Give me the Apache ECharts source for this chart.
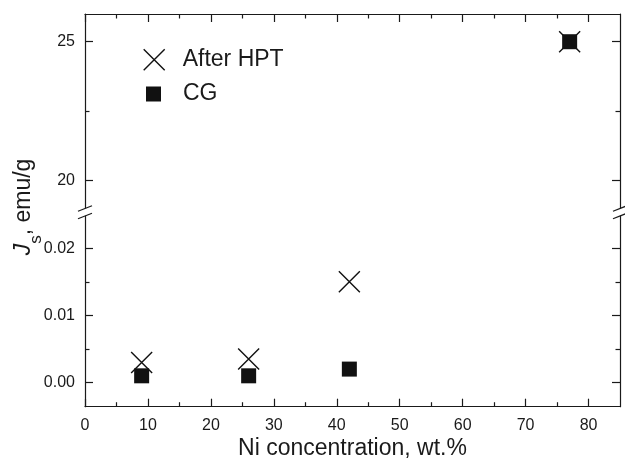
<!DOCTYPE html>
<html>
<head>
<meta charset="utf-8">
<script src="https://cdn.jsdelivr.net/npm/echarts@6/dist/echarts.min.js"></script>
<style>
html, body { margin: 0; padding: 0; background: #ffffff; }
#chart { width: 625px; height: 461px; }
</style>
</head>
<body>
<div id="chart"></div>
<script>
// ---- data ----
const niConcentration = [9, 26, 42, 77];
const afterHPT = [0.003, 0.0035, 0.015, 25];
const cgValues = [0.001, 0.001, 0.002, 25];
const seriesNames = ['After HPT', 'CG'];

// ---- ticks ----
const xMajorTicks = [0, 10, 20, 30, 40, 50, 60, 70, 80];
const xMinorTicks = [5, 15, 25, 35, 45, 55, 65, 75];
const upperMajorTicks = [20, 25];
const upperMinorTicks = [22.5];
const lowerMajorTicks = [0, 0.01, 0.02];
const lowerMinorTicks = [0.005, 0.015];
const BREAK_VALUE = 1; // values above this go to the upper panel

// ---- layout / style ----
const FONT = 'Liberation Sans, Arial, Helvetica, sans-serif';
const INK = '#1a1a1a';
const LEFT = 85, RIGHT_EDGE = 620, W = 625, H = 461;
const UP_TOP = 14, UP_BOTTOM = 208;
const LOW_TOP = 216, LOW_BOTTOM = 406.7;
const LINE_W = 1.2;
const CROSS = 'path://M0,0L20,20M20,0L0,20';

function pairs(vals, upper) {
  return niConcentration
    .map((x, i) => [x, vals[i]])
    .filter(p => upper ? p[1] > BREAK_VALUE : p[1] <= BREAK_VALUE);
}

function xAx(grid, pos, ticks, len, withLine, withLabel) {
  return {
    type: 'value', gridIndex: grid, position: pos, min: 0, max: 85,
    splitLine: { show: false },
    axisLine: { show: withLine, onZero: false, lineStyle: { color: INK, width: LINE_W } },
    axisTick: { show: true, inside: true, length: len, customValues: ticks,
                lineStyle: { color: INK, width: LINE_W } },
    axisLabel: withLabel
      ? { show: true, customValues: ticks, margin: 11, fontSize: 16, fontFamily: FONT, color: INK }
      : { show: false }
  };
}

function yAx(grid, pos, min, max, ticks, len, withLine, withLabel, fmt) {
  return {
    type: 'value', gridIndex: grid, position: pos, min: min, max: max,
    splitLine: { show: false },
    axisLine: { show: withLine, onZero: false, lineStyle: { color: INK, width: LINE_W } },
    axisTick: { show: true, inside: true, length: len, customValues: ticks,
                lineStyle: { color: INK, width: LINE_W } },
    axisLabel: withLabel
      ? { show: true, customValues: ticks, margin: 10, fontSize: 16, fontFamily: FONT, color: INK,
          formatter: fmt }
      : { show: false }
  };
}

const UP_MIN = 19, UP_MAX = 26;
const LOW_MIN = -0.0036, LOW_MAX = 0.0248;

const xAxes = [
  Object.assign(xAx(1, 'bottom', xMajorTicks, 8, true, true), {
    name: 'Ni concentration, wt.%', nameLocation: 'middle', nameGap: 30,
    nameTextStyle: { fontSize: 23, fontFamily: FONT, color: INK }
  }),
  xAx(1, 'bottom', xMinorTicks, 4.5, false, false),
  xAx(0, 'top', xMajorTicks, 8, true, false),
  xAx(0, 'top', xMinorTicks, 4.5, false, false)
];

const yAxes = [
  yAx(0, 'left', UP_MIN, UP_MAX, upperMajorTicks, 8, true, true, v => String(v)),
  yAx(0, 'left', UP_MIN, UP_MAX, upperMinorTicks, 4.5, false, false),
  yAx(0, 'right', UP_MIN, UP_MAX, upperMajorTicks, 8, true, false),
  yAx(0, 'right', UP_MIN, UP_MAX, upperMinorTicks, 4.5, false, false),
  yAx(1, 'left', LOW_MIN, LOW_MAX, lowerMajorTicks, 8, true, true, v => Number(v).toFixed(2)),
  yAx(1, 'left', LOW_MIN, LOW_MAX, lowerMinorTicks, 4.5, false, false),
  yAx(1, 'right', LOW_MIN, LOW_MAX, lowerMajorTicks, 8, true, false),
  yAx(1, 'right', LOW_MIN, LOW_MAX, lowerMinorTicks, 4.5, false, false)
];

const squareStyle = { color: '#111111', opacity: 1 };
const crossStyle = { color: 'transparent', borderColor: '#111111', borderWidth: 1.4, opacity: 1 };

function breakMarks(x) {
  const dx = 7, dy = 2.8;
  return [UP_BOTTOM + 0.5, LOW_TOP].map(y => ({
    type: 'line', silent: true, z: 100,
    shape: { x1: x - dx, y1: y + dy, x2: x + dx, y2: y - dy },
    style: { stroke: INK, lineWidth: LINE_W }
  }));
}

const option = {
  animation: false,
  backgroundColor: '#ffffff',
  textStyle: { fontFamily: FONT },
  grid: [
    { left: LEFT, right: W - RIGHT_EDGE, top: UP_TOP, height: UP_BOTTOM - UP_TOP, containLabel: false },
    { left: LEFT, right: W - RIGHT_EDGE, top: LOW_TOP, height: LOW_BOTTOM - LOW_TOP, containLabel: false }
  ],
  xAxis: xAxes,
  yAxis: yAxes,
  legend: [
    {
      data: [{ name: seriesNames[0], icon: CROSS, itemStyle: crossStyle }],
      left: 138, top: 43.3, itemWidth: 21, itemHeight: 21, selectedMode: false,
      textStyle: { fontSize: 23, fontFamily: FONT, color: INK, lineHeight: 21, padding: [0, 0, 0, 13] }
    },
    {
      data: [{ name: seriesNames[1], icon: 'rect', itemStyle: squareStyle }],
      left: 141, top: 77.5, itemWidth: 15, itemHeight: 15, selectedMode: false,
      textStyle: { fontSize: 23, fontFamily: FONT, color: INK, lineHeight: 15, padding: [0, 0, 0, 17] }
    }
  ],
  graphic: [
    {
      type: 'text', x: 26, y: 207, rotation: Math.PI / 2, silent: true,
      style: {
        text: '{j|J}{s|s}{n|, emu/g}',
        align: 'center', verticalAlign: 'middle', fill: INK,
        rich: {
          j: { fontSize: 23, fontFamily: FONT, fontStyle: 'italic', lineHeight: 28, verticalAlign: 'top', fill: INK },
          s: { fontSize: 17, fontFamily: FONT, lineHeight: 17, padding: [16, 0, 0, 0], verticalAlign: 'top', fill: INK },
          n: { fontSize: 23, fontFamily: FONT, lineHeight: 28, verticalAlign: 'top', fill: INK }
        }
      }
    }
  ].concat(breakMarks(LEFT), breakMarks(RIGHT_EDGE)),
  series: [
    { name: seriesNames[1], type: 'scatter', xAxisIndex: 0, yAxisIndex: 4,
      data: pairs(cgValues, false), symbol: 'rect', symbolSize: 15, itemStyle: squareStyle },
    { name: seriesNames[1], type: 'scatter', xAxisIndex: 2, yAxisIndex: 0,
      data: pairs(cgValues, true), symbol: 'rect', symbolSize: 15, itemStyle: squareStyle },
    { name: seriesNames[0], type: 'scatter', xAxisIndex: 0, yAxisIndex: 4,
      data: pairs(afterHPT, false), symbol: CROSS, symbolSize: 21, itemStyle: crossStyle },
    { name: seriesNames[0], type: 'scatter', xAxisIndex: 2, yAxisIndex: 0,
      data: pairs(afterHPT, true), symbol: CROSS, symbolSize: 21, itemStyle: crossStyle }
  ]
};

const chart = echarts.init(document.getElementById('chart'), null, { renderer: 'canvas' });
chart.setOption(option);
</script>
</body>
</html>
